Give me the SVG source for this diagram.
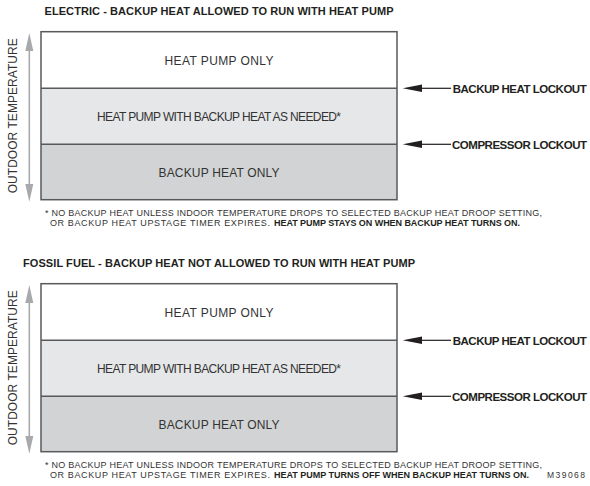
<svg xmlns="http://www.w3.org/2000/svg" width="590" height="486" viewBox="0 0 590 486">
<defs>
<style>
text { font-family: "Liberation Sans", Arial, sans-serif; fill: #333333; }
.title { font-size: 11px; font-weight: bold; fill: #231f20; text-anchor: middle; }
.band { font-size: 12px; text-anchor: middle; }
.vert { font-size: 12px; text-anchor: middle; }
.label { font-size: 11.5px; font-weight: bold; fill: #231f20; }
.note { font-size: 9px; }
.noteb { font-size: 9px; font-weight: bold; fill: #231f20; }
.code { font-size: 8.5px; }
.b1 { fill: #ffffff; }
.b2 { fill: #e6e7e8; }
.b3 { fill: #d1d3d4; }
.div { stroke: #58595b; stroke-width: 1.5; fill: none; }
.axis { stroke: #a7a9ac; stroke-width: 1.6; }
.axhead { fill: #a7a9ac; }
.conn { stroke: #231f20; stroke-width: 1.2; }
.head { fill: #231f20; }
</style>
</defs>

<!-- Panel 1 -->
<g id="panel1">
  <text id="title1" class="title" x="219" y="15.3" textLength="349">ELECTRIC - BACKUP HEAT ALLOWED TO RUN WITH HEAT PUMP</text>
  <g id="p1-hp-only">
    <rect class="b1" x="41" y="31.7" width="356" height="56.6"/>
    <text class="band" x="219" y="65" textLength="109">HEAT PUMP ONLY</text>
  </g>
  <g id="p1-hp-backup">
    <rect class="b2" x="41" y="88.3" width="356" height="56"/>
    <text class="band" x="219" y="121" textLength="244">HEAT PUMP WITH BACKUP HEAT AS NEEDED*</text>
  </g>
  <g id="p1-backup-only">
    <rect class="b3" x="41" y="144.3" width="356" height="55.4"/>
    <text class="band" x="219" y="176.7" textLength="121">BACKUP HEAT ONLY</text>
  </g>
  <line class="div" x1="41" y1="88.3" x2="397" y2="88.3"/>
  <line class="div" x1="41" y1="144.3" x2="397" y2="144.3"/>
  <rect class="div" x="41" y="31.7" width="356" height="168"/>
  <g id="p1-axis">
    <line class="axis" x1="29.3" y1="48" x2="29.3" y2="187"/>
    <polygon class="axhead" points="29.3,33 25.3,51 33.3,51"/>
    <polygon class="axhead" points="29.3,201.7 25.3,184 33.3,184"/>
    <text class="vert" transform="translate(16.7,115.8) rotate(-90)" textLength="155">OUTDOOR TEMPERATURE</text>
  </g>
  <g id="p1-label-backup">
    <text class="label" x="452.7" y="93.2" textLength="134">BACKUP HEAT LOCKOUT</text>
  </g>
  <g id="p1-label-compressor">
    <text class="label" x="452" y="149.2" textLength="135">COMPRESSOR LOCKOUT</text>
  </g>
  <g id="p1-note">
    <text class="note" x="45" y="215.7" textLength="497">* NO BACKUP HEAT UNLESS INDOOR TEMPERATURE DROPS TO SELECTED BACKUP HEAT DROOP SETTING,</text>
    <text class="note" x="50" y="226" textLength="220">OR BACKUP HEAT UPSTAGE TIMER EXPIRES.</text>
    <text class="noteb" x="274" y="226" textLength="246">HEAT PUMP STAYS ON WHEN BACKUP HEAT TURNS ON.</text>
  </g>
</g>

<!-- Panel 2 -->
<g id="panel2" transform="translate(0,252)">
  <text id="title2" class="title" x="219" y="15.3" textLength="392">FOSSIL FUEL - BACKUP HEAT NOT ALLOWED TO RUN WITH HEAT PUMP</text>
  <g id="p2-hp-only">
    <rect class="b1" x="41" y="31.7" width="356" height="56.6"/>
    <text class="band" x="219" y="65" textLength="109">HEAT PUMP ONLY</text>
  </g>
  <g id="p2-hp-backup">
    <rect class="b2" x="41" y="88.3" width="356" height="56"/>
    <text class="band" x="219" y="121" textLength="244">HEAT PUMP WITH BACKUP HEAT AS NEEDED*</text>
  </g>
  <g id="p2-backup-only">
    <rect class="b3" x="41" y="144.3" width="356" height="55.4"/>
    <text class="band" x="219" y="176.7" textLength="121">BACKUP HEAT ONLY</text>
  </g>
  <line class="div" x1="41" y1="88.3" x2="397" y2="88.3"/>
  <line class="div" x1="41" y1="144.3" x2="397" y2="144.3"/>
  <rect class="div" x="41" y="31.7" width="356" height="168"/>
  <g id="p2-axis">
    <line class="axis" x1="29.3" y1="48" x2="29.3" y2="187"/>
    <polygon class="axhead" points="29.3,33 25.3,51 33.3,51"/>
    <polygon class="axhead" points="29.3,201.7 25.3,184 33.3,184"/>
    <text class="vert" transform="translate(16.7,115.8) rotate(-90)" textLength="155">OUTDOOR TEMPERATURE</text>
  </g>
  <g id="p2-label-backup">
    <text class="label" x="452.7" y="93.2" textLength="134">BACKUP HEAT LOCKOUT</text>
  </g>
  <g id="p2-label-compressor">
    <text class="label" x="452" y="149.2" textLength="135">COMPRESSOR LOCKOUT</text>
  </g>
  <g id="p2-note">
    <text class="note" x="45" y="215.7" textLength="497">* NO BACKUP HEAT UNLESS INDOOR TEMPERATURE DROPS TO SELECTED BACKUP HEAT DROOP SETTING,</text>
    <text class="note" x="50" y="226" textLength="220">OR BACKUP HEAT UPSTAGE TIMER EXPIRES.</text>
    <text class="noteb" x="274" y="226" textLength="255">HEAT PUMP TURNS OFF WHEN BACKUP HEAT TURNS ON.</text>
  </g>
</g>

<!-- Connectors -->
<g id="connectors">
  <line class="conn" x1="420" y1="88.3" x2="451" y2="88.3"/>
  <polygon class="head" points="402.7,88.3 422,84.6 422,92"/>
  <line class="conn" x1="420" y1="144.3" x2="451" y2="144.3"/>
  <polygon class="head" points="402.7,144.3 422,140.6 422,148"/>
  <line class="conn" x1="420" y1="340.3" x2="451" y2="340.3"/>
  <polygon class="head" points="402.7,340.3 422,336.6 422,344"/>
  <line class="conn" x1="420" y1="396.3" x2="451" y2="396.3"/>
  <polygon class="head" points="402.7,396.3 422,392.6 422,400"/>
</g>

<text id="code" class="code" x="547" y="478" textLength="38">M39068</text>
</svg>
